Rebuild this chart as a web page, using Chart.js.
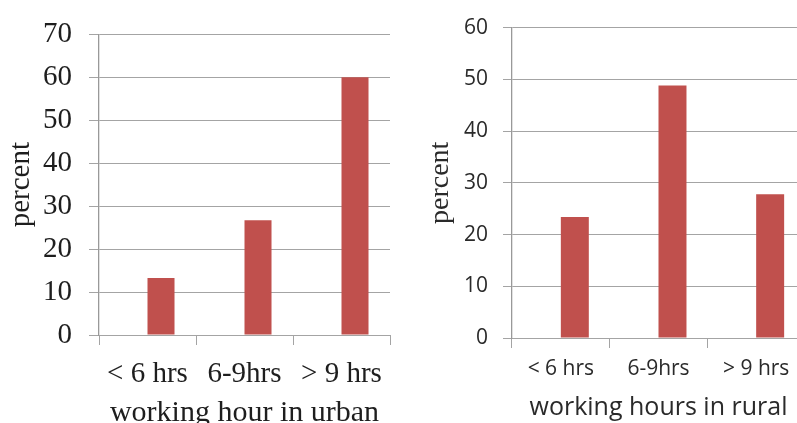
<!DOCTYPE html>
<html>
<head>
<meta charset="utf-8">
<script src="https://cdn.jsdelivr.net/npm/chart.js@4/dist/chart.umd.min.js"></script>
<style>
  html, body { margin: 0; padding: 0; width: 797px; height: 423px; overflow: hidden; background: #fff; }
  canvas { position: absolute; top: 0; }
  #urban { left: 0; }
  #rural { left: 400px; }
</style>
</head>
<body>
<canvas id="urban" width="400" height="440"></canvas>
<canvas id="rural" width="410" height="440"></canvas>
<script>
// Working-hour categories shared by both panels
const categories = ['< 6 hrs', '6-9hrs', '> 9 hrs'];

// Percent of respondents in each working-hour band
const urbanPercent = [13.3, 26.7, 60];
const ruralPercent = [23.4, 48.8, 27.8];

// Empty leading series: each bar sits in the second slot of its category group
const spacerSeries = [null, null, null];

// Value axis ticks
const urbanTicks = [0, 10, 20, 30, 40, 50, 60, 70];
const ruralTicks = [0, 10, 20, 30, 40, 50, 60];

const barColor = '#C0504D';
const gridColor = '#a4a4a4';

function panel(canvasId, values, ticks, opts) {
  const yMax = ticks[ticks.length - 1];
  return new Chart(document.getElementById(canvasId), {
    type: 'bar',
    data: {
      labels: categories,
      datasets: [
        { data: spacerSeries, backgroundColor: barColor },
        { data: values, backgroundColor: barColor, borderWidth: 0 }
      ]
    },
    options: {
      responsive: false,
      animation: false,
      events: [],
      layout: { padding: opts.padding },
      plugins: { legend: { display: false }, tooltip: { enabled: false } },
      datasets: { bar: { categoryPercentage: opts.catPct, barPercentage: 1.0 } },
      scales: {
        x: {
          grid: { display: true, drawOnChartArea: false, drawTicks: true, tickLength: 10, color: gridColor, lineWidth: 1 },
          border: { display: true, color: gridColor, width: 1 },
          ticks: { color: opts.textColor, font: opts.tickFont, padding: opts.xTickPad, maxRotation: 0, autoSkip: false },
          title: { display: true, text: opts.xTitle, color: opts.textColor, font: opts.xTitleFont, padding: { top: 0, bottom: opts.xTitlePad } },
          afterFit: (axis) => { axis.height = opts.xHeight; }
        },
        y: {
          min: 0,
          max: yMax,
          afterBuildTicks: (axis) => { axis.ticks = ticks.map(v => ({ value: v })); },
          grid: { color: gridColor, lineWidth: 1, tickLength: opts.yTickLen, drawTicks: true },
          border: { display: true, color: '#999999', width: 1.3 },
          ticks: { color: opts.textColor, font: opts.tickFont, padding: opts.yTickPad },
          title: { display: true, text: 'percent', color: opts.textColor, font: opts.yTitleFont, padding: { top: opts.yTitlePad, bottom: 0 } },
          afterFit: (axis) => { axis.width = opts.yWidth; }
        }
      }
    }
  });
}

const serif = "'Liberation Serif', 'Times New Roman', serif";
const sans = "'Open Sans', 'Noto Sans', sans-serif";

panel('urban', urbanPercent, urbanTicks, {
  padding: { left: 0, top: 24, right: 10, bottom: 0 },
  catPct: 0.557,
  textColor: '#1e1e1e',
  tickFont: { family: serif, size: 29 },
  xTitle: 'working hour in urban',
  xTitleFont: { family: serif, size: 30 },
  xTitlePad: 9,
  xTickPad: 12,
  xHeight: 105,
  yTickLen: 10,
  yTickPad: 17,
  yTitleFont: { family: serif, size: 29 },
  yTitlePad: 4,
  yWidth: 99
});

panel('rural', ruralPercent, ruralTicks, {
  padding: { left: 0, top: 25, right: 5, bottom: 0 },
  catPct: 0.573,
  textColor: '#2a2a2a',
  tickFont: { family: sans, size: 21 },
  xTitle: 'working hours in rural',
  xTitleFont: { family: sans, size: 25 },
  xTitlePad: 17,
  xTickPad: 8,
  xHeight: 102,
  yTickLen: 9,
  yTickPad: 15,
  yTitleFont: { family: serif, size: 28 },
  yTitlePad: 24,
  yWidth: 112
});
</script>
</body>
</html>
